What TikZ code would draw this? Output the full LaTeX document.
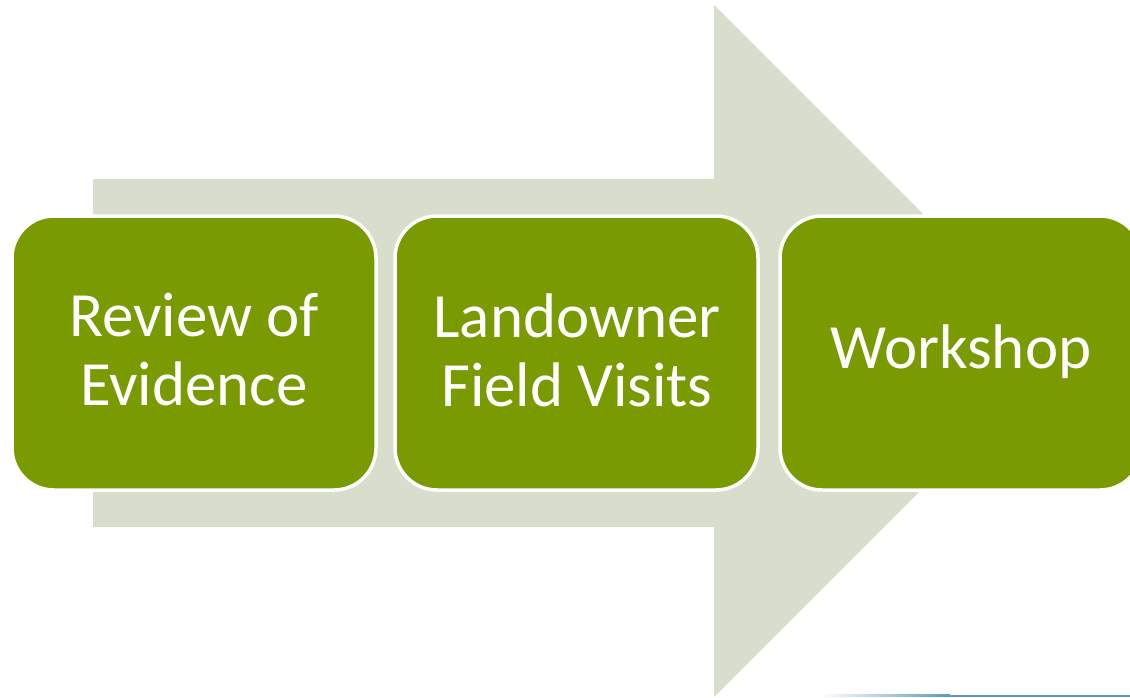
\documentclass[tikz,border=0pt]{standalone}
\usepackage{fontspec}
\setmainfont{Carlito}
\definecolor{arrowfill}{HTML}{D7DECC}
\definecolor{boxgreen}{HTML}{7A9A01}
\definecolor{lineblue}{HTML}{5B9BBD}
\tikzset{
  stepbox/.style={fill=boxgreen, draw=white, line width=3.5pt, rounded corners=42pt},
  steptext/.style={text=white, align=center, font=\fontsize{63}{69}\selectfont, inner sep=0pt},
}
\begin{document}
\begin{tikzpicture}[x=1pt,y=-1pt]
\useasboundingbox (0,0) rectangle (1130,697);
\begin{scope}
\clip (0,0) rectangle (1130,697);
% big arrow
\fill[arrowfill] (93,179) -- (714,179) -- (714,5) -- (1060,351) -- (714,697) -- (714,527) -- (93,527) -- cycle;
% bottom blue rule
\shade[left color=white, right color=lineblue, shading angle=90] (820,694.5) rectangle (950,696.5);
\fill[lineblue] (950,694.5) rectangle (1130,696.5);
% boxes
\draw[stepbox] (12,216) rectangle (376,490);
\draw[stepbox] (395,216) rectangle (758,490);
\draw[stepbox] (780,216) rectangle (1142,490);
\node[steptext] (b1) at (194,350) {Review of\\Evidence};
\node[steptext] (b2) at (577,350) {Landowner\\Field Visits};
\node[steptext] (b3) at (961,352) {Workshop};
\end{scope}
\end{tikzpicture}
\end{document}
